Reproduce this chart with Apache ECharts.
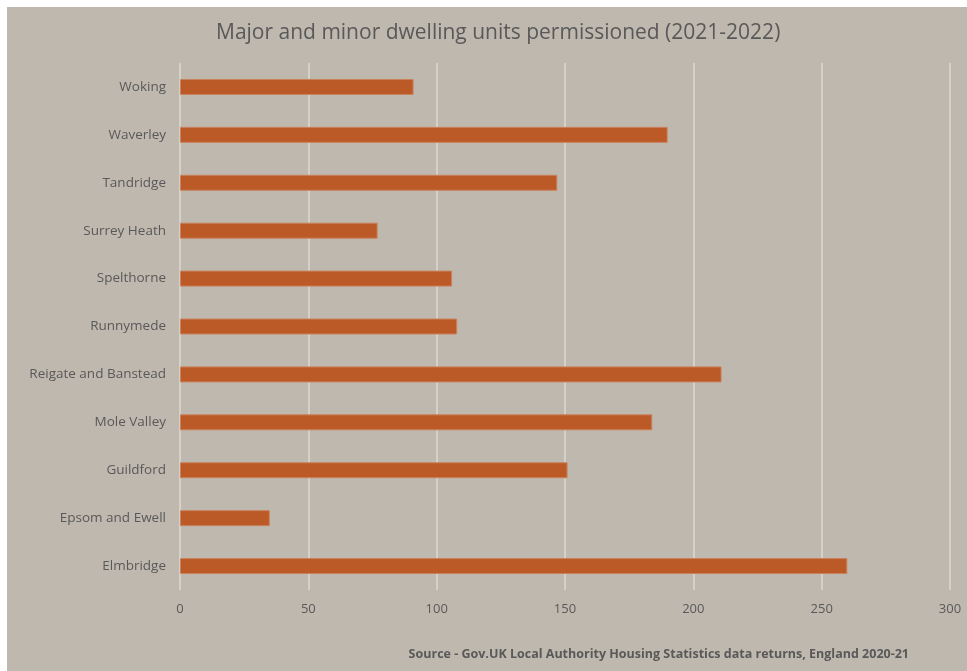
<!DOCTYPE html>
<html><head><meta charset="utf-8">
<script src="https://cdn.jsdelivr.net/npm/echarts@6/dist/echarts.min.js"></script>
<style>
html,body{margin:0;padding:0;background:#fff;}
#c{position:absolute;left:7px;top:7px;width:960px;height:664px;}
</style></head><body>
<div id="c"></div>
<script>
const categories = ["Elmbridge","Epsom and Ewell","Guildford","Mole Valley","Reigate and Banstead","Runnymede","Spelthorne","Surrey Heath","Tandridge","Waverley","Woking"];
const values = [260, 35, 151, 184, 211, 108, 106, 77, 147, 190, 91];
const xTicks = [0, 50, 100, 150, 200, 250, 300];
const titleText = "Major and minor dwelling units permissioned (2021-2022)";
const sourceText = "Source - Gov.UK Local Authority Housing Statistics data returns, England 2020-21";

const chart = echarts.init(document.getElementById('c'), null, {renderer:'canvas'});
chart.setOption({
  backgroundColor: '#bfb8ae',
  textStyle: {fontFamily: 'Open Sans'},
  title: [{
    text: titleText, left: 204, top: 11,
    textStyle: {fontFamily:'Open Sans', fontSize: 21, fontWeight: 'normal', color: '#595959'}
  },{
    text: sourceText, right: 53, top: 636,
    textStyle: {fontFamily:'Open Sans', fontSize: 12.5, fontWeight: 'bold', color: '#595959'}
  }],
  grid: {left: 173, right: 17, top: 56, bottom: 81},
  xAxis: {
    type: 'value', min: xTicks[0], max: xTicks[xTicks.length-1], interval: 50,
    axisLine: {show:false}, axisTick: {show:false},
    splitLine: {show:true, lineStyle:{color:'#dcd8d1', width:1.5}},
    axisLabel: {color:'#595959', fontSize: 13, margin: 13}
  },
  yAxis: {
    type: 'category', data: categories,
    axisLine: {show:false}, axisTick: {show:false},
    axisLabel: {color:'#595959', fontSize: 13.5, margin: 14}
  },
  series: [{
    type: 'bar', data: values, barWidth: 16,
    itemStyle: {color:'#bc5a27', borderColor:'#c9835e', borderWidth: 1}
  }]
});
</script>
</body></html>
